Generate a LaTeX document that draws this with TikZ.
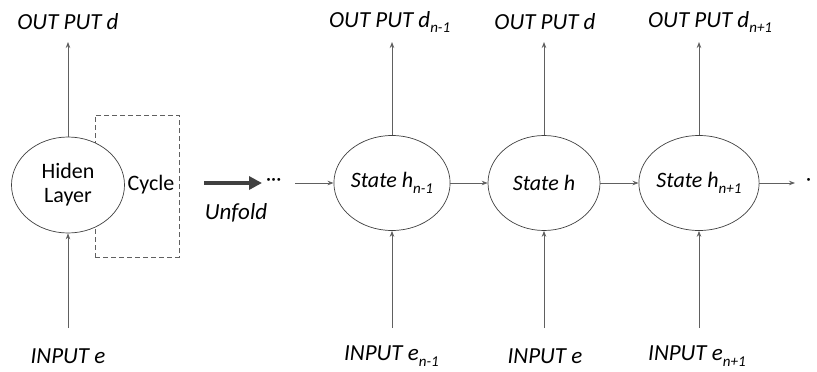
\documentclass[tikz,border=0pt]{standalone}
\usepackage{fontspec}
\setmainfont{Carlito}
\usetikzlibrary{arrows.meta,shapes.geometric}
\definecolor{lin}{HTML}{606060}
\definecolor{bold}{HTML}{404040}
\newcommand{\mysub}[1]{\raisebox{-0.25em}{\fontsize{15}{15}\selectfont #1}}
\begin{document}
\begin{tikzpicture}[x=1pt,y=-1pt,
  lbl/.style={font=\fontsize{23}{26}\selectfont\itshape, inner sep=0pt},
  state/.style={draw=black!75, line width=0.7pt, ellipse, fill=white, minimum width=112pt, minimum height=95pt, inner sep=0pt},
  intext/.style={font=\fontsize{22}{24}\selectfont\itshape},
  arr/.style={draw=lin, line width=0.8pt, -{Stealth[length=6pt,width=4.5pt]}},
  dots/.style={font=\fontsize{20}{20}\selectfont, inner sep=0pt}]
\useasboundingbox (0,0) rectangle (817,372);
% left folded part
\node[draw=lin, dash pattern=on 5pt off 3pt, line width=0.8pt, minimum width=84pt, minimum height=142pt, inner sep=0pt] (cyc) at (137,186) {};
\node[state, minimum width=113pt, minimum height=96pt, font=\fontsize{22}{24}\selectfont, align=center] (h0) at (68,185) {Hiden\\Layer};
\node[font=\fontsize{22}{24}\selectfont, inner sep=0pt] (cyct) at (151,185) {Cycle};
\node[lbl] (o0) at (68,22) {OUT PUT d};
\node[lbl] (i0) at (68,356) {INPUT e};
\coordinate (o0t) at (68,42);
\coordinate (i0b) at (68,328);
\draw[arr] (h0.north) -- (o0t);
\draw[arr] (i0b) -- (h0.south);
% unfold
\coordinate (ua) at (204,183);
\coordinate (ub) at (262,183);
\draw[bold, line width=4pt, -{Triangle[length=13pt,width=13pt]}] (ua) -- (ub);
\node[lbl] (unf) at (236,213) {Unfold};
\node[dots, anchor=west] (d0) at (266,182) {···};
% unfolded states
\node[state] (e1) at (392,183) {\fontsize{22}{24}\selectfont\itshape State h\mysub{n-1}};
\node[state] (e2) at (544,183) {\fontsize{22}{24}\selectfont\itshape State h};
\node[state] (e3) at (699,183) {\fontsize{22}{24}\selectfont\itshape State h\mysub{n+1}};
\node[dots, anchor=west] (d1) at (806,182) {·};
\coordinate (hs) at (295,183);
\coordinate (he) at (795,183);
\draw[arr] (hs) -- (e1.west);
\draw[arr] (e1.east) -- (e2.west);
\draw[arr] (e2.east) -- (e3.west);
\draw[arr] (e3.east) -- (he);
% outputs
\node[lbl, anchor=west] (o1) at (329,22) {OUT PUT d\mysub{n-1}};
\node[lbl] (o2) at (545,22) {OUT PUT d};
\node[lbl, anchor=west] (o3) at (648,22) {OUT PUT d\mysub{n+1}};
\coordinate (o1t) at (392,42);
\coordinate (o2t) at (544,42);
\coordinate (o3t) at (699,42);
\draw[arr] (e1.north) -- (o1t);
\draw[arr] (e2.north) -- (o2t);
\draw[arr] (e3.north) -- (o3t);
% inputs
\node[lbl, anchor=west] (i1) at (344,356) {INPUT e\mysub{n-1}};
\node[lbl] (i2) at (545,356) {INPUT e};
\node[lbl, anchor=west] (i3) at (648,356) {INPUT e\mysub{n+1}};
\coordinate (i1b) at (392,328);
\coordinate (i2b) at (544,328);
\coordinate (i3b) at (699,328);
\draw[arr] (i1b) -- (e1.south);
\draw[arr] (i2b) -- (e2.south);
\draw[arr] (i3b) -- (e3.south);
\end{tikzpicture}
\end{document}
